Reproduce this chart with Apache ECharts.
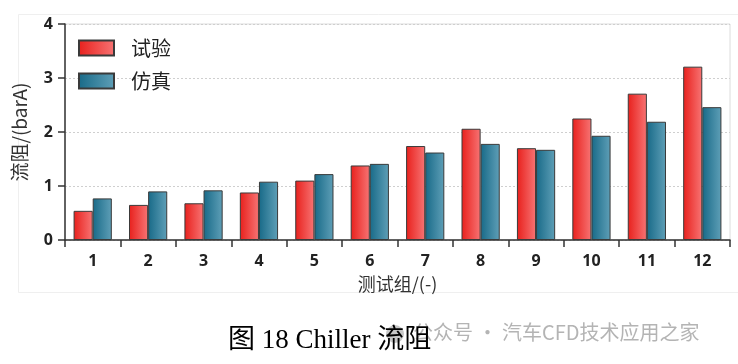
<!DOCTYPE html>
<html>
<head>
<meta charset="utf-8">
<script src="https://cdn.jsdelivr.net/npm/echarts@6/dist/echarts.min.js"></script>
<style>
html,body{margin:0;padding:0;background:#fff;}
#c{width:738px;height:364px;}
</style>
</head>
<body>
<div id="c"></div>
<script>
const categories = ['1','2','3','4','5','6','7','8','9','10','11','12'];
const testValues = [0.54, 0.65, 0.68, 0.88, 1.10, 1.38, 1.74, 2.06, 1.70, 2.25, 2.71, 3.21];
const simValues  = [0.77, 0.90, 0.92, 1.08, 1.22, 1.41, 1.62, 1.78, 1.67, 1.93, 2.19, 2.46];
const yTicks = [0, 1, 2, 3, 4];
const seriesNames = ['试验', '仿真'];

const chart = echarts.init(document.getElementById('c'), null, {renderer: 'canvas'});

function grad(c1, c2) {
  return new echarts.graphic.LinearGradient(0, 0, 1, 0, [
    {offset: 0, color: c1}, {offset: 1, color: c2}
  ]);
}

const option = {
  backgroundColor: '#fff',
  animation: false,
  grid: {left: 65, top: 24, right: 8, bottom: 124, show: true, borderColor: '#dcdcdc', borderWidth: 1},
  legend: {
    orient: 'vertical', left: 78, top: 38, itemWidth: 35, itemHeight: 15, itemGap: 13,
    padding: 0, icon: 'rect',
    data: seriesNames,
    textStyle: {fontSize: 20, color: '#222', fontFamily: 'Noto Sans CJK SC', padding: [0, 0, 0, 12]}
  },
  xAxis: {
    type: 'category', data: categories,
    name: '测试组/(-)', nameLocation: 'middle', nameGap: 35,
    nameTextStyle: {fontSize: 18, color: '#333', fontFamily: 'Noto Sans CJK SC'},
    axisLine: {lineStyle: {color: '#333', width: 1.5}},
    axisTick: {show: true, alignWithLabel: false, length: 7, lineStyle: {color: '#333', width: 1.5}},
    axisLabel: {fontSize: 16, fontWeight: 'bold', color: '#222', margin: 13, fontFamily: 'Noto Sans'}
  },
  yAxis: {
    type: 'value', min: yTicks[0], max: yTicks[yTicks.length - 1], interval: 1,
    name: '流阻/(barA)', nameLocation: 'middle', nameGap: 36,
    nameTextStyle: {fontSize: 19, color: '#333', fontFamily: 'Noto Sans CJK SC'},
    axisLine: {show: true, lineStyle: {color: '#333', width: 1.5}},
    axisTick: {show: true, length: 7, lineStyle: {color: '#333', width: 1.5}},
    axisLabel: {fontSize: 16, fontWeight: 'bold', color: '#222', margin: 12, fontFamily: 'Noto Sans'},
    splitLine: {show: true, lineStyle: {color: '#cfcfcf', type: [2, 2], width: 1}}
  },
  series: [
    {
      name: seriesNames[0], type: 'bar', data: testValues,
      barGap: '0%', barCategoryGap: '31%',
      itemStyle: {color: grad('#e8201c', '#f77474'), borderColor: '#3a3a3a', borderWidth: 1}
    },
    {
      name: seriesNames[1], type: 'bar', data: simValues,
      barGap: '0%', barCategoryGap: '31%',
      itemStyle: {color: grad('#186a88', '#5f9fb7'), borderColor: '#3a3a3a', borderWidth: 1}
    }
  ],
  graphic: [
    {type: 'rect', left: 16, top: 12, shape: {width: 722, height: 278}, style: {fill: 'none', stroke: '#efefef', lineWidth: 1}, silent: true},
    {type: 'circle', left: 386, top: 325, shape: {r: 9}, style: {fill: '#c8c8c8'}, silent: true},
    {type: 'text', left: 413, top: 322, style: {text: '公众号 · 汽车CFD技术应用之家', fill: '#b4b4b4', font: '20px "Noto Sans CJK SC"'}, silent: true},
    {type: 'text', left: 228, top: 327, style: {text: '图 18 Chiller 流阻', fill: '#000', font: '27px "Liberation Serif", "Noto Sans CJK SC"'}, silent: true}
  ]
};
chart.setOption(option);
</script>
</body>
</html>
